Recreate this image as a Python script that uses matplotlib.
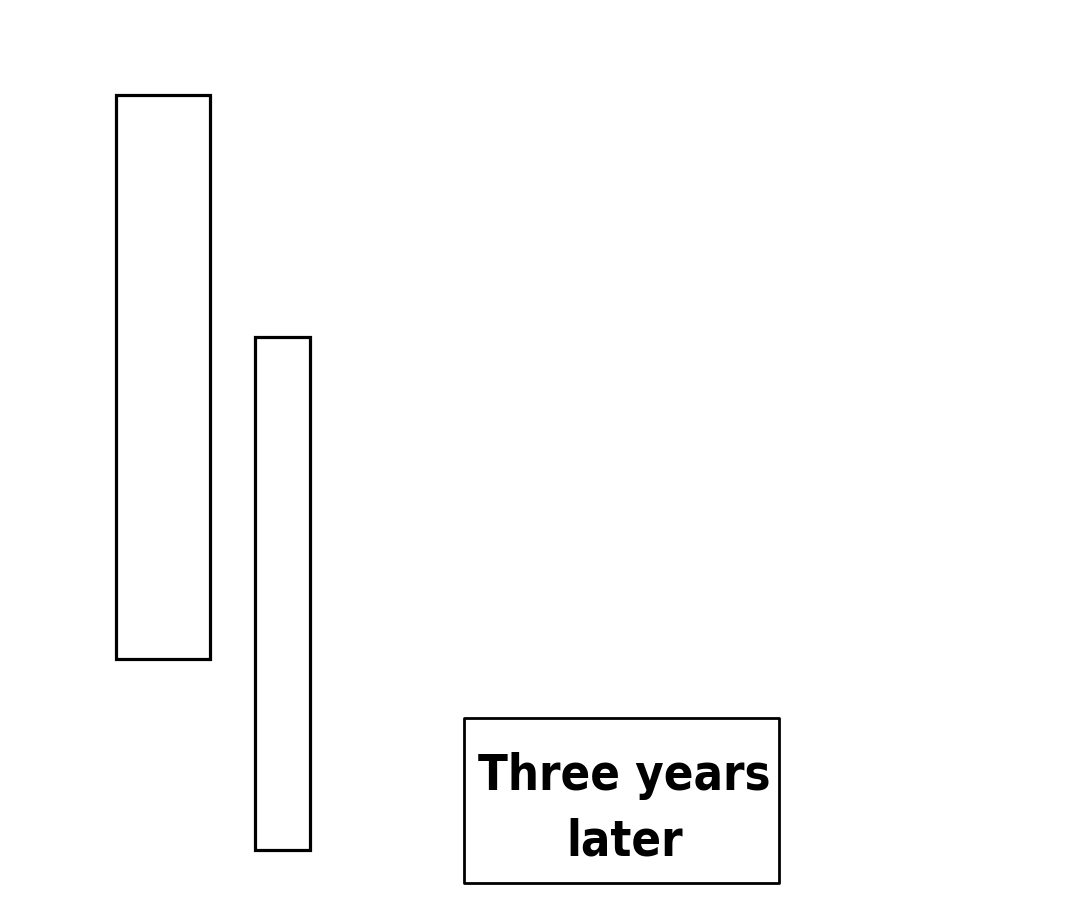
import matplotlib
matplotlib.use("Agg")
import matplotlib.pyplot as plt
from matplotlib.patches import Rectangle

# panel outlines in pixels: left, top, right, bottom
panel_left = [116, 95, 210, 659]
panel_right = [255, 337, 310, 850]
caption_box = [464, 718, 779, 883]
caption_lines = ["Three years", "later"]
caption_baselines = [790, 855]

fig = plt.figure(figsize=(10.8, 9), dpi=100)
ax = fig.add_axes([0, 0, 1, 1])
ax.set_xlim(0, 1080)
ax.set_ylim(900, 0)
ax.axis("off")

for l, t, r, b in (panel_left, panel_right):
    ax.add_patch(Rectangle((l, t), r - l, b - t, fill=False, edgecolor="black", linewidth=2.3))

l, t, r, b = caption_box
ax.add_patch(Rectangle((l, t), r - l, b - t, fill=False, edgecolor="black", linewidth=2.0,
                       joinstyle="round"))

for line, y in zip(caption_lines, caption_baselines):
    ax.text((l + r) / 2 + 3, y, line, ha="center", va="baseline",
            fontsize=35, fontweight="heavy", fontstretch="condensed",
            family="DejaVu Sans", color="black")

fig.savefig("out.png", dpi=100, facecolor="white")
